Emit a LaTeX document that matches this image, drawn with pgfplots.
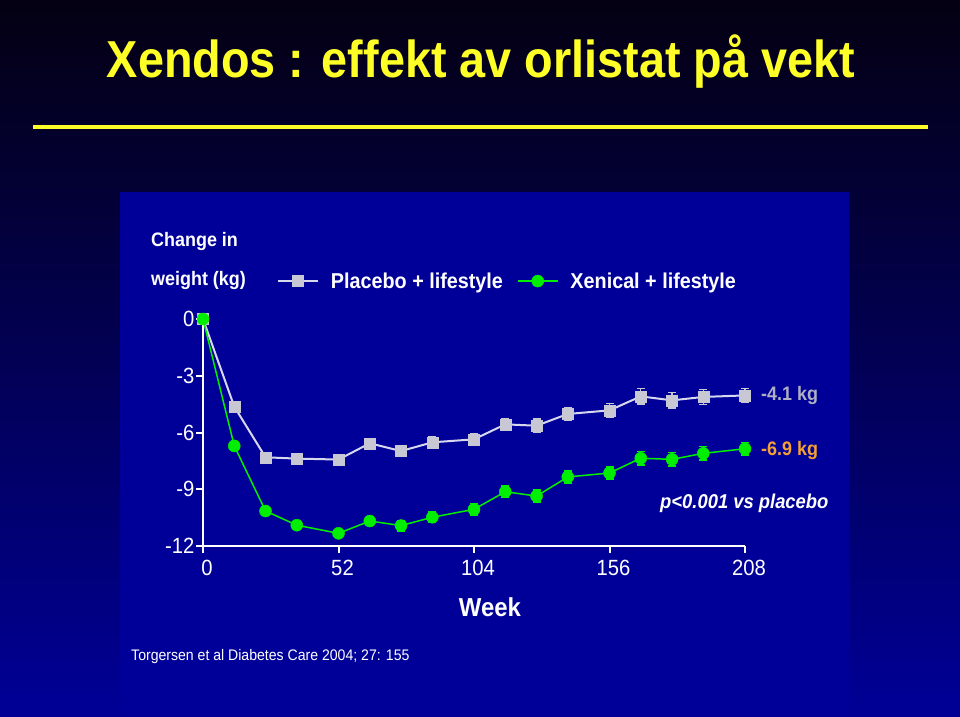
\documentclass[border=0pt]{standalone}
\usepackage{pgfplots}
\pgfplotsset{compat=1.18}
\usepackage{pgfplotstable}
\usepackage{fontspec}
\setmainfont{Liberation Sans}
\newfontfamily\narrow[FakeStretch=0.92]{Liberation Sans}
\newfontfamily\ttlfont[FakeStretch=0.9]{Liberation Sans}

\definecolor{bgtop}{RGB}{4,0,18}
\definecolor{bgbot}{RGB}{0,0,150}
\definecolor{panel}{RGB}{0,0,153}
\definecolor{ttl}{RGB}{255,255,40}
\definecolor{plc}{RGB}{200,200,212}
\definecolor{plcline}{RGB}{215,215,238}
\definecolor{xen}{RGB}{0,238,0}
\definecolor{orng}{RGB}{245,160,50}
\definecolor{greytxt}{RGB}{175,175,195}

\pgfplotstableread{
week y err
0 0 0
12 -4.63 0.1
24 -7.31 0.12
36 -7.38 0.12
52 -7.43 0.2
64 -6.57 0.25
76 -6.98 0.28
88 -6.52 0.28
104 -6.36 0.3
116 -5.57 0.32
128 -5.64 0.35
140 -5.02 0.35
156 -4.83 0.35
168 -4.09 0.4
180 -4.30 0.4
192 -4.12 0.4
208 -4.04 0.38
}\placebo

\pgfplotstableread{
week y err
0 0 0
12 -6.71 0.1
24 -10.15 0.1
36 -10.90 0.12
52 -11.33 0.15
64 -10.68 0.25
76 -10.92 0.28
88 -10.48 0.28
104 -10.06 0.3
116 -9.13 0.3
128 -9.36 0.32
140 -8.35 0.32
156 -8.14 0.32
168 -7.36 0.35
180 -7.42 0.35
192 -7.10 0.35
208 -6.86 0.33
}\xenical

\begin{document}
\begin{tikzpicture}[x=1pt,y=1pt]
\useasboundingbox (0,0) rectangle (960,716);
\shade[top color=bgtop, bottom color=bgbot] (0,0) rectangle (960,716);
\fill[panel] (120,0) rectangle (849,524);
% title
\node[anchor=base, text=ttl, font=\ttlfont\bfseries\fontsize{52}{52}\selectfont] at (481,638) {Xendos : effekt av orlistat på vekt};
\draw[ttl, line width=4pt] (33,589) -- (928,589);
% texts
\node[anchor=west, inner sep=0, text=white, font=\narrow\bfseries\fontsize{19.5}{19.5}\selectfont] at (151,474) {Change in};
\node[anchor=west, inner sep=0, text=white, font=\narrow\bfseries\fontsize{19.5}{19.5}\selectfont] at (151,435) {weight (kg)};
\node[anchor=west, inner sep=0, text=greytxt, font=\narrow\bfseries\fontsize{19.5}{19.5}\selectfont] at (761,321) {-4.1 kg};
\node[anchor=west, inner sep=0, text=orng, font=\narrow\bfseries\fontsize{19.5}{19.5}\selectfont] at (761,266) {-6.9 kg};
\node[anchor=west, inner sep=0, text=white, font=\narrow\bfseries\itshape\fontsize{20}{20}\selectfont] at (660,213) {p<0.001 vs placebo};
\node[anchor=center, inner sep=0, text=white, font=\narrow\bfseries\fontsize{26}{26}\selectfont] at (490,109) {Week};
\node[anchor=west, inner sep=0, text=white, font=\narrow\fontsize{15.3}{15.3}\selectfont] at (131,59) {Torgersen et al Diabetes Care 2004; 27: 155};

\begin{axis}[
  at={(203pt,170pt)}, anchor=south west,
  scale only axis, width=542pt, height=227pt,
  xmin=0, xmax=208, ymin=-12, ymax=0,
  clip=false,
  axis x line=bottom, axis y line=left,
  axis line style={white, line width=2.5pt, -},
  tick style={white, line width=2pt},
  tick align=outside, major tick length=7pt,
  xtick={0,52,104,156,208}, xticklabels={0,52,104,156,208},
  ytick={-12,-9,-6,-3,0}, yticklabels={-12,-9,-6,-3,0},
  ticklabel style={font=\narrow\fontsize{22}{22}\selectfont, text=white},
  xticklabel style={yshift=-4pt, xshift=4pt},
  yticklabel style={xshift=2pt},
  legend style={at={(0.136,1.167)}, anchor=west, draw=none, fill=none, text=white,
    font=\narrow\bfseries\fontsize{21.5}{21.5}\selectfont, inner sep=0pt,
    /tikz/every odd column/.append style={column sep=10pt},
    /tikz/every even column/.append style={column sep=12pt}},
  legend columns=2,
  legend image code/.code={\draw[mark repeat=2,mark phase=2] plot coordinates {(0pt,0pt) (20pt,0pt) (40pt,0pt)};},
]
\addplot[plcline, line width=2pt, mark=square*, mark size=5.5pt,
  mark options={fill=plc, draw=plc, line width=0.5pt},
  error bars/.cd, y dir=both, y explicit,
  error bar style={plc, line width=1.3pt},
  error mark options={plc, line width=1.3pt, mark size=4pt, rotate=90}]
  table[x=week, y=y, y error=err] {\placebo};
\addlegendentry{Placebo + lifestyle}
\addplot[xen, line width=1.5pt, mark=*, mark size=6pt,
  mark options={fill=xen, draw=xen, line width=0.5pt},
  error bars/.cd, y dir=both, y explicit,
  error bar style={xen, line width=1.3pt},
  error mark options={xen, line width=1.3pt, mark size=4pt, rotate=90}]
  table[x=week, y=y, y error=err] {\xenical};
\addlegendentry{Xenical + lifestyle}
\end{axis}
\end{tikzpicture}
\end{document}
